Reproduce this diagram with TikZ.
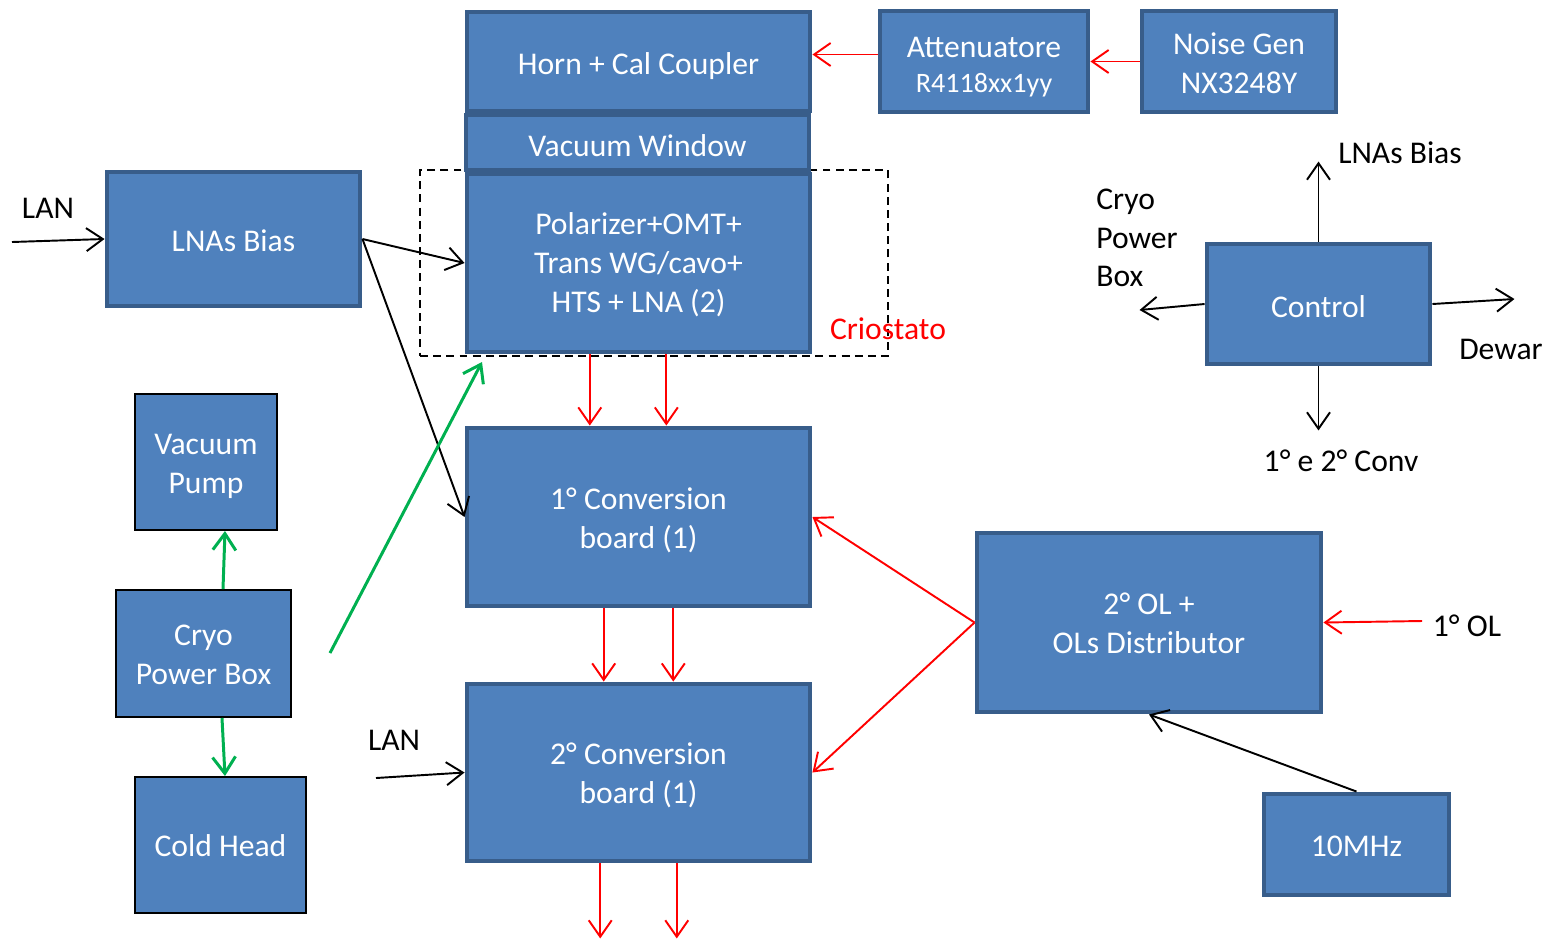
\documentclass[tikz,border=0pt]{standalone}
\usepackage{fontspec}
\setmainfont{Carlito}
\usetikzlibrary{arrows.meta,calc}
\definecolor{bfill}{HTML}{4F81BD}
\definecolor{bline}{HTML}{385D8A}
\definecolor{sigred}{HTML}{FF0000}
\definecolor{pwrgreen}{HTML}{00B050}
% \blk[style]{name}{x1}{y1}{x2}{y2}{text drop}{text}: block given by its outer corners (px units)
\newcommand\blk[8][]{\node[blk,#1,minimum width={(#5-#3-4)*0.02cm},minimum height={(#6-#4-4)*0.02cm},
  label={[btext,yshift={-#7*0.02cm}]center:{#8}}] (#2) at ({(#3+#5)/2},{(#4+#6)/2}) {};}
\begin{document}
\begin{tikzpicture}[x=0.02cm,y=-0.02cm,
  blk/.style={rectangle,draw=bline,fill=bfill,line width=2.8pt,inner sep=0pt},
  btext/.style={text=white,align=center,inner sep=0pt,font=\fontsize{18}{22.1}\selectfont},
  plain/.style={draw=black,line width=1.1pt},
  lbl/.style={text=black,align=left,inner sep=0pt,font=\fontsize{18}{22.1}\selectfont},
  link/.style={line width=1.1pt,-{Straight Barb[length=0.33cm,width=0.46cm]}},
  sig/.style={link,draw=sigred},
  pwr/.style={link,draw=pwrgreen,line width=1.7pt},
  ctl/.style={link,draw=black},
  crio/.style={draw=black,dash pattern=on 4.5pt off 3pt,line width=1.1pt,inner sep=0pt}]
\useasboundingbox (0,0) rectangle (1552,941);

% cryostat boundary
\node[crio,minimum width={468*0.02cm},minimum height={186*0.02cm}] (crio) at (654,263) {};

% blocks
\blk{horn}{465}{10}{812}{113}{5}{Horn + Cal Coupler}
\blk{vwin}{464}{113}{811}{172}{3}{Vacuum Window}
\blk{pol}{465}{172}{812}{354}{2}{Polarizer+OMT+\\Trans WG/cavo+\\HTS + LNA (2)}
\blk{att}{878}{9}{1090}{114}{5.5}{Attenuatore\\[-2pt]{\fontsize{16}{18}\selectfont R4118xx1yy}}
\blk{noise}{1140}{9}{1338}{114}{2}{Noise Gen\\NX3248Y}
\blk{lnab}{105}{170}{362}{308}{2}{LNAs Bias}
\blk{ctrl}{1205}{242}{1432}{366}{3}{Control}
\blk{cv1}{465}{426}{812}{608}{3}{1° Conversion\\board (1)}
\blk{cv2}{465}{682}{812}{863}{3}{2° Conversion\\board (1)}
\blk{ol}{975}{531}{1323}{714}{1}{2° OL +\\OLs Distributor}
\blk{ten}{1262}{792}{1451}{897}{2}{10MHz}
\blk[plain]{vp}{133}{392}{279}{532}{4}{Vacuum\\Pump}
\blk[plain]{cpb}{114}{588}{293}{719}{1}{Cryo\\Power Box}
\blk[plain]{ch}{133}{775}{308}{915}{1}{Cold Head}

% free line ends
\coordinate (lan1) at (12,242);
\coordinate (lan2) at (376,778);
\coordinate (pwrsrc) at (330,653);
\coordinate (pwrdst) at (482,362);
\coordinate (olin) at (1422,621);

% calibration chain
\draw[sig] (att.west) ++(0,-7) coordinate (a1) -- (a1 -| horn.east);
\draw[sig] (noise.west) -- (att.east);

% bias and LAN
\draw[ctl] (lan1) -- (lnab.west);
\draw[ctl] (lnab.east) -- (pol.west);
\draw[ctl] (lnab.east) -- (cv1.west);
\draw[ctl] (lan2) -- (cv2.west);

% cryo power
\draw[pwr] (pwrsrc) -- (pwrdst);
\draw[pwr] ([xshift=0.39cm]cpb.north) -- ([xshift=0.38cm]vp.south);
\draw[pwr] ([xshift=0.37cm]cpb.south) -- ([xshift=0.09cm]ch.north);

% RF chain
\draw[sig] ($(pol.south west)!.36!(pol.south east)$) coordinate (p1) -- (p1 |- cv1.north);
\draw[sig] ($(pol.south west)!.58!(pol.south east)$) coordinate (p2) -- (p2 |- cv1.north);
\draw[sig] ($(cv1.south west)!.40!(cv1.south east)$) coordinate (p3) -- (p3 |- cv2.north);
\draw[sig] ($(cv1.south west)!.60!(cv1.south east)$) coordinate (p4) -- (p4 |- cv2.north);
\draw[sig] ($(cv2.south west)!.39!(cv2.south east)$) -- ++(0,75);
\draw[sig] ($(cv2.south west)!.61!(cv2.south east)$) -- ++(0,75);

% local oscillators
\draw[sig] (ol.west) -- (cv1.east);
\draw[sig] (ol.west) -- (cv2.east);
\draw[sig] (olin) -- (ol.east);
\draw[ctl] (ten.north) -- (ol.south);

% control outputs
\draw[ctl] (ctrl.north) -- ++(0,-80);
\draw[ctl] (ctrl.south) -- ++(0,64);
\draw[ctl] (ctrl.west) -- ++(-65,6);
\draw[ctl] (ctrl.east) -- ++(82,-5);

% labels
\node[lbl] (lanA) at (48,208) {LAN};
\node[lbl] (lanB) at (394,740) {LAN};
\node[lbl] (tLNA) at (1400,153) {LNAs Bias};
\node[lbl,anchor=west] (tCryo) at (1096,238) {Cryo\\Power\\Box};
\node[lbl] (tDew) at (1501,349) {Dewar};
\node[lbl] (tConv) at (1341,461) {1° e 2° Conv};
\node[lbl] (tOL) at (1467,626) {1° OL};
\node[lbl,text=sigred] (tCrio) at (888,329) {Criostato};
\end{tikzpicture}
\end{document}
